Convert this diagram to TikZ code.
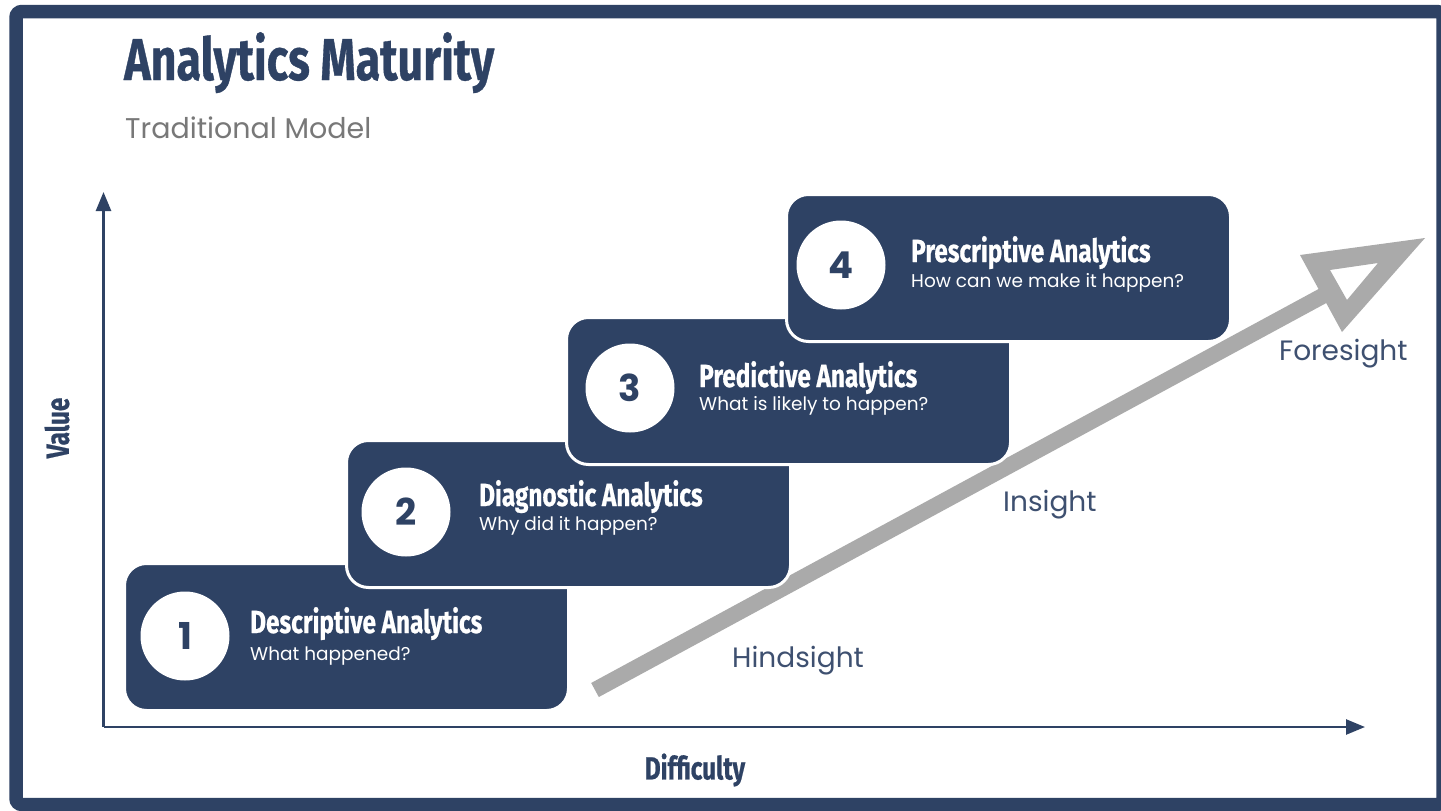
\documentclass[tikz,border=0pt]{standalone}
\usepackage{fontspec}
\usetikzlibrary{arrows.meta}
\setmainfont{Poppins}
\newfontfamily\condfont[FakeStretch=0.76,FakeBold=0.6]{Fira Sans}
\newfontfamily\popfont{Poppins}
\definecolor{navy}{RGB}{46,66,100}
\definecolor{arrowgray}{RGB}{170,170,170}
\definecolor{subgray}{RGB}{120,120,120}
\definecolor{labelblue}{RGB}{62,80,112}
\tikzset{
 stepbox/.style={fill=navy, draw=white, line width=3pt, rounded corners=22pt, minimum width=444pt, minimum height=147pt, anchor=north west, inner sep=0pt},
 numcircle/.style={circle, fill=white, minimum size=89pt, inner sep=0pt, text=navy, font=\popfont\bfseries\fontsize{37}{40}\selectfont},
 heading/.style={anchor=base west, inner sep=0pt, text=white, font=\condfont\bfseries\fontsize{32}{38}\selectfont},
 question/.style={anchor=base west, inner sep=0pt, text=white, font=\popfont\fontsize{18.5}{22}\selectfont},
 axis/.style={navy, line width=2.5pt, -{Triangle[length=19pt,width=15pt]}},
 axislabel/.style={text=navy, inner sep=0pt, font=\condfont\bfseries\fontsize{32}{38}\selectfont},
 sightlabel/.style={anchor=base west, inner sep=0pt, text=labelblue, font=\popfont\fontsize{28}{34}\selectfont},
}
\begin{document}
\begin{tikzpicture}[x=1pt,y=-1pt]
\useasboundingbox (0,0) rectangle (1441,811);
\clip (0,0) rectangle (1441,811);
\fill[white] (0,0) rectangle (1441,811);
% frame
\draw[navy, line width=13.5pt, rounded corners=6pt] (16,11.5) rectangle (1443,804.5);
% title
\node[anchor=base west, inner sep=0pt, text=navy, font=\condfont\bfseries\fontsize{59}{68}\selectfont] (title) at (124,80) {Analytics Maturity};
\node[anchor=base west, inner sep=0pt, text=subgray, font=\popfont\fontsize{28.5}{34}\selectfont] (subtitle) at (125,138) {Traditional Model};
% axes
\coordinate (origin) at (103.5,727);
\coordinate (ytip) at (103.5,192);
\coordinate (xtip) at (1365,727);
\draw[axis] (origin) -- (ytip);
\draw[axis] (origin) -- (xtip);
\node[axislabel, rotate=90] (vlabel) at (57,428) {Value};
\node[axislabel] (dlabel) at (695,770) {Difficulty};
% gray arrow
\coordinate (shaftstart) at (595,690);
\coordinate (shaftend) at (1328,293);
\draw[arrowgray, line width=16pt] (shaftstart) -- (shaftend);
\fill[arrowgray, even odd rule] (1300,255) -- (1425,238) -- (1342,332) -- cycle (1330,270) -- (1378,263) -- (1347,300) -- cycle;
% boxes
\node[stepbox] (b1) at (123,562) {};
\node[numcircle] (c1) at (185,636) {1};
\node[heading] (h1) at (250,633) {Descriptive Analytics};
\node[question] (q1) at (250,660) {What happened?};
\node[stepbox] (b2) at (345,439) {};
\node[numcircle] (c2) at (406,512) {2};
\node[heading] (h2) at (479,506) {Diagnostic Analytics};
\node[question] (q2) at (479,530) {Why did it happen?};
\node[stepbox] (b3) at (565,316) {};
\node[numcircle] (c3) at (630,388) {3};
\node[heading] (h3) at (699,387) {Predictive Analytics};
\node[question] (q3) at (699,410) {What is likely to happen?};
\node[stepbox] (b4) at (785,193) {};
\node[numcircle] (c4) at (841,265) {4};
\node[heading] (h4) at (911,262) {Prescriptive Analytics};
\node[question] (q4) at (911,287) {How can we make it happen?};
% sight labels
\node[sightlabel] (hind) at (732,667) {Hindsight};
\node[sightlabel] (ins) at (1003,511) {Insight};
\node[sightlabel] (fore) at (1279,360) {Foresight};
\end{tikzpicture}
\end{document}
